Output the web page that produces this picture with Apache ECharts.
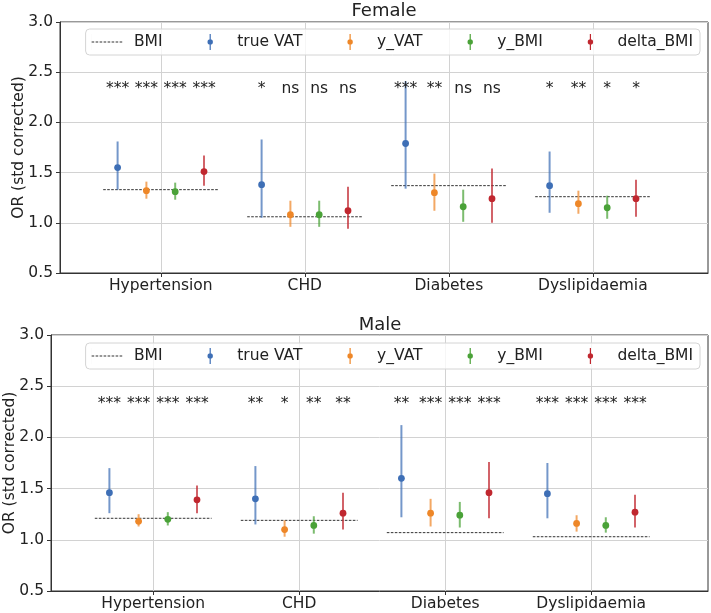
<!DOCTYPE html>
<html>
<head>
<meta charset="utf-8">
<script src="https://cdn.jsdelivr.net/npm/echarts@6/dist/echarts.min.js"></script>
<style>
  html, body { margin: 0; padding: 0; background: #fff; }
  #main { width: 711px; height: 613px; }
</style>
</head>
<body>
<div id="main"></div>
<script>
// categories and legend names
const categories = ['Hypertension', 'CHD', 'Diabetes', 'Dyslipidaemia'];
const seriesNames = ['true VAT', 'y_VAT', 'y_BMI', 'delta_BMI'];
const yTicks = [0.5, 1.0, 1.5, 2.0, 2.5, 3.0];

// Female: BMI reference and [OR, lower, upper] per category
const femaleBMI = [1.33, 1.06, 1.37, 1.26];
const femaleTrueVAT = [[1.55, 1.33, 1.81], [1.38, 1.05, 1.83], [1.79, 1.34, 2.41], [1.37, 1.10, 1.71]];
const femaleYVAT = [[1.32, 1.24, 1.41], [1.08, 0.96, 1.22], [1.30, 1.12, 1.49], [1.19, 1.09, 1.32]];
const femaleYBMI = [[1.31, 1.23, 1.40], [1.08, 0.96, 1.22], [1.16, 1.01, 1.33], [1.15, 1.04, 1.27]];
const femaleDeltaBMI = [[1.51, 1.37, 1.67], [1.12, 0.94, 1.36], [1.24, 1.00, 1.54], [1.24, 1.06, 1.43]];
const femaleSig = [['***', '***', '***', '***'], ['*', 'ns', 'ns', 'ns'], ['***', '**', 'ns', 'ns'], ['*', '**', '*', '*']];

// Male
const maleBMI = [1.21, 1.19, 1.07, 1.03];
const maleTrueVAT = [[1.46, 1.26, 1.70], [1.40, 1.15, 1.72], [1.60, 1.22, 2.12], [1.45, 1.21, 1.75]];
const maleYVAT = [[1.18, 1.13, 1.25], [1.10, 1.03, 1.19], [1.26, 1.13, 1.40], [1.16, 1.08, 1.24]];
const maleYBMI = [[1.20, 1.14, 1.27], [1.14, 1.06, 1.23], [1.24, 1.12, 1.37], [1.14, 1.07, 1.22]];
const maleDeltaBMI = [[1.39, 1.26, 1.53], [1.26, 1.10, 1.46], [1.46, 1.21, 1.76], [1.27, 1.12, 1.44]];
const maleSig = [['***', '***', '***', '***'], ['**', '*', '**', '**'], ['**', '***', '***', '***'], ['***', '***', '***', '***']];

const sigLevel = 2.33;

const colors = ['#3e6fb6', '#ee8728', '#4aa238', '#c0272f'];
const offsets = [-0.3, -0.1, 0.1, 0.3];
const FONT = 'DejaVu Sans';
const FS = 15.5;

const chart = echarts.init(document.getElementById('main'), null, { renderer: 'canvas' });

function renderErr(params, api) {
  const x = api.value(0);
  const pm = api.coord([x, api.value(1)]);
  const pl = api.coord([x, api.value(2)]);
  const ph = api.coord([x, api.value(3)]);
  const color = api.visual('color');
  return {
    type: 'group',
    children: [
      { type: 'line', shape: { x1: pl[0], y1: pl[1], x2: ph[0], y2: ph[1] },
        style: { stroke: color, lineWidth: 2, opacity: 0.72 } },
      { type: 'circle', shape: { cx: pm[0], cy: pm[1], r: 3.4 }, style: { fill: color } }
    ]
  };
}

function renderBMI(params, api) {
  const x = api.value(0);
  const p1 = api.coord([x - 0.4, api.value(1)]);
  const p2 = api.coord([x + 0.4, api.value(1)]);
  return {
    type: 'line',
    shape: { x1: p1[0], y1: p1[1], x2: p2[0], y2: p2[1] },
    style: { stroke: '#333', lineWidth: 1, lineDash: [2.6, 1.4] }
  };
}

function renderSig(params, api) {
  const p = api.coord([api.value(0), api.value(1)]);
  return {
    type: 'text',
    x: p[0], y: p[1],
    style: {
      text: api.value(2), fill: '#222', font: FS + 'px "' + FONT + '"',
      align: 'center', verticalAlign: 'middle'
    }
  };
}

const errIcon = 'path://M-0.6,-8L0.6,-8L0.6,8L-0.6,8Z M-2.7,0A2.7,2.7 0 1 1 2.7,0A2.7,2.7 0 1 1 -2.7,0Z';
const dashIcon = 'path://M0,7.5h2.6v1h-2.6Z M4,7.5h2.6v1h-2.6Z M8,7.5h2.6v1h-2.6Z M12,7.5h2.6v1h-2.6Z M16,7.5h2.6v1h-2.6Z M20,7.5h2.6v1h-2.6Z M24,7.5h2.6v1h-2.6Z M28,7.5h2.6v1h-2.6Z M0,0h0.01v16h-0.01Z';

function makeLegend(top) {
  return {
    right: 11, top: top,
    itemWidth: 32, itemHeight: 16, itemGap: 45,
    padding: [5, 7, 5, 6],
    backgroundColor: 'rgba(255,255,255,0.8)',
    borderColor: '#d4d4d4', borderWidth: 1, borderRadius: 4,
    textStyle: { fontFamily: FONT, fontSize: FS, color: '#222', padding: [0, 0, 0, 6] },
    data: [{ name: 'BMI', icon: dashIcon }].concat(seriesNames.map(n => ({ name: n, icon: errIcon })))
  };
}

function panelSeries(idx, bmi, groups, sig) {
  const out = [{
    name: 'BMI', type: 'custom', xAxisIndex: idx, yAxisIndex: idx,
    itemStyle: { color: '#333' },
    renderItem: renderBMI,
    data: bmi.map((v, i) => [i, v])
  }];
  groups.forEach((g, s) => {
    out.push({
      name: seriesNames[s], type: 'custom', xAxisIndex: idx, yAxisIndex: idx,
      itemStyle: { color: colors[s] },
      renderItem: renderErr,
      data: g.map((d, i) => [i + offsets[s], d[0], d[1], d[2]])
    });
  });
  const sigData = [];
  sig.forEach((row, i) => row.forEach((t, s) => sigData.push([i + offsets[s], sigLevel, t])));
  out.push({
    name: 'sig', type: 'custom', xAxisIndex: idx, yAxisIndex: idx,
    renderItem: renderSig, data: sigData, z: 5
  });
  return out;
}

function xAxis(idx) {
  return {
    type: 'value', gridIndex: idx, min: -0.7, max: 3.8,
    axisLine: { show: true, onZero: false, lineStyle: { color: '#333' } },
    axisTick: { show: true, length: 4, customValues: [0, 1, 2, 3], lineStyle: { color: '#333' } },
    axisLabel: { customValues: [0, 1, 2, 3], formatter: v => categories[Math.round(v)],
      fontFamily: FONT, fontSize: FS, color: '#222', margin: 5 },
    splitLine: { show: true, lineStyle: { color: '#d2d2d2' } }
  };
}

function yAxis(idx, gap) {
  return {
    type: 'value', gridIndex: idx, min: yTicks[0], max: yTicks[yTicks.length - 1], interval: 0.5,
    name: 'OR (std corrected)', nameLocation: 'middle', nameGap: gap, nameMoveOverlap: false,
    nameTextStyle: { fontFamily: FONT, fontSize: FS, color: '#222' },
    axisLine: { show: true, onZero: false, lineStyle: { color: '#333' } },
    axisTick: { show: true, length: 4, lineStyle: { color: '#333' } },
    axisLabel: { formatter: v => v.toFixed(1), fontFamily: FONT, fontSize: FS, color: '#222', margin: 7 },
    splitLine: { show: true, lineStyle: { color: '#d2d2d2' } }
  };
}

chart.setOption({
  animation: false,
  graphic: [
    { type: 'text', x: 384, y: 11, style: { text: 'Female', align: 'center', verticalAlign: 'middle',
      font: '18px "' + FONT + '"', fill: '#222' } },
    { type: 'text', x: 380, y: 325, style: { text: 'Male', align: 'center', verticalAlign: 'middle',
      font: '18px "' + FONT + '"', fill: '#222' } }
  ],
  legend: [makeLegend(29), makeLegend(343)],
  grid: [
    { left: 60, right: 3, top: 22, height: 251, show: true, borderColor: '#333', borderWidth: 1,
      outerBoundsMode: 'none' },
    { left: 51, right: 3, top: 335, height: 256, show: true, borderColor: '#333', borderWidth: 1,
      outerBoundsMode: 'none' }
  ],
  xAxis: [xAxis(0), xAxis(1)],
  yAxis: [yAxis(0, 33), yAxis(1, 33)],
  series: panelSeries(0, femaleBMI, [femaleTrueVAT, femaleYVAT, femaleYBMI, femaleDeltaBMI], femaleSig)
    .concat(panelSeries(1, maleBMI, [maleTrueVAT, maleYVAT, maleYBMI, maleDeltaBMI], maleSig))
});
</script>
</body>
</html>
